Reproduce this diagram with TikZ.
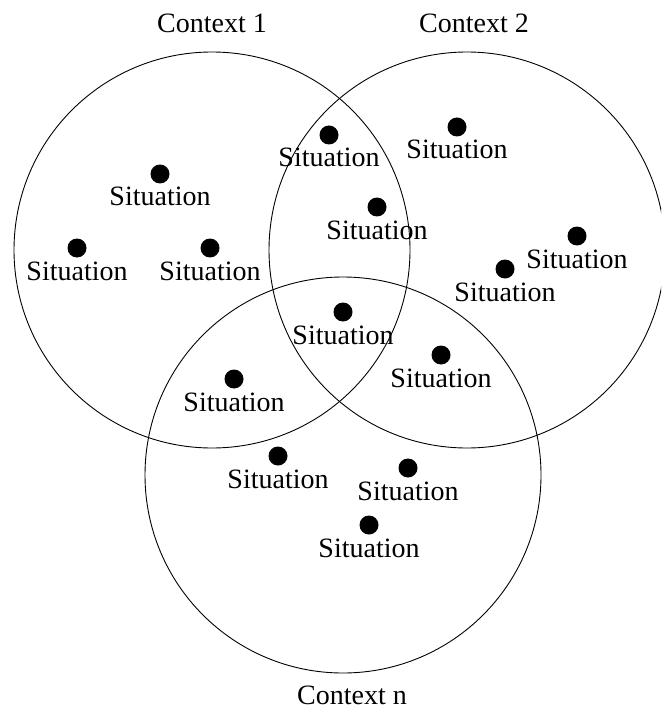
\documentclass[tikz,border=0pt]{standalone}
\usepackage{fontspec}
\setmainfont{Liberation Serif}
\begin{document}
\begin{tikzpicture}[x=1pt,y=-1pt,
  ctx/.style={circle,draw,line width=0.9pt,inner sep=0pt,outer sep=0pt,minimum size=396pt},
  dot/.style={circle,fill=black,inner sep=0pt,minimum size=19pt},
  sit/.style={anchor=base,inner sep=0pt,font=\fontsize{28}{32}\selectfont},
  ctxlabel/.style={anchor=base,inner sep=0pt,font=\fontsize{28}{32}\selectfont}]
  \useasboundingbox (0,0) rectangle (661,711);
  \clip (0,0) rectangle (661,711);

  % the three contexts
  \node[ctx] (c1) at (212,250) {};
  \node[ctx] (c2) at (467,250) {};
  \node[ctx] (c3) at (343,475) {};

  \node[ctxlabel] (l1) at (212,33) {Context 1};
  \node[ctxlabel] (l2) at (474,33) {Context 2};
  \node[ctxlabel] (ln) at (352,704) {Context n};

  % situations: a dot with its label underneath
  \foreach \nm/\x/\y in {a/160/174, b/329/135, c/457/127, d/377/207, e/577/236,
                         f/77/248, g/210/248, h/505/269, i/343/312, j/441/355,
                         k/234/379, l/278/456, m/408/468, n/369/525}{
    \node[dot] (s\nm) at (\x,\y) {};
    \node[sit] (t\nm) at (\x,\y+32) {Situation};
  }
\end{tikzpicture}
\end{document}
